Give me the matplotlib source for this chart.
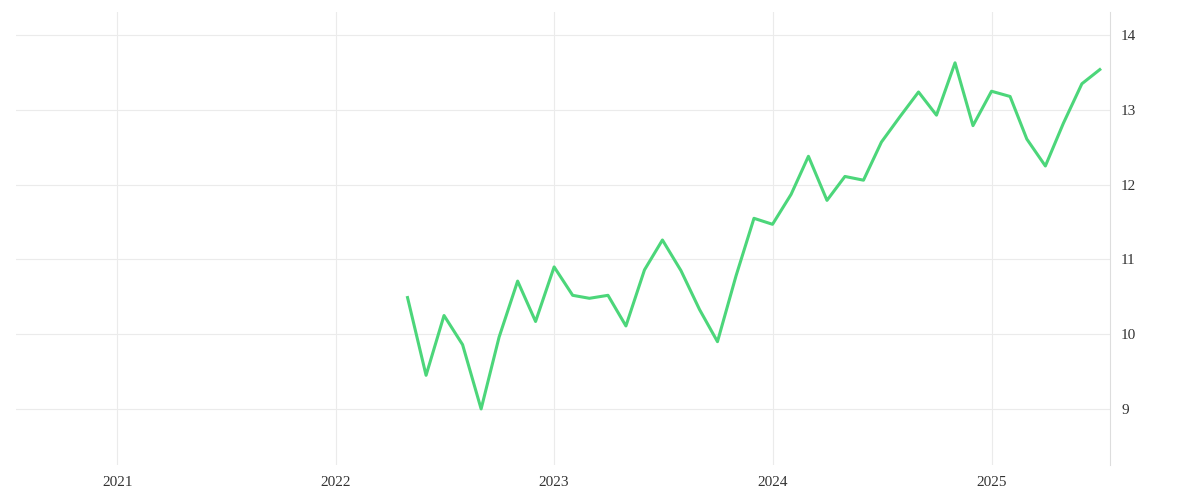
import numpy as np
import matplotlib
matplotlib.use("Agg")
import matplotlib.pyplot as plt
import matplotlib.dates as mdates

months = np.arange(np.datetime64("2022-05"), np.datetime64("2025-08"), dtype="datetime64[M]")
values = [10.49, 9.45, 10.25, 9.86, 9.0, 9.96, 10.71, 10.17,
          10.90, 10.52, 10.48, 10.52, 10.11, 10.86, 11.26, 10.85, 10.33, 9.90, 10.78, 11.55,
          11.47, 11.87, 12.38, 11.79, 12.11, 12.06, 12.57, 12.91, 13.24, 12.93, 13.63, 12.79,
          13.25, 13.18, 12.61, 12.25, 12.82, 13.35, 13.54]
dates = months.astype("datetime64[D]")

plt.rcParams['font.family'] = ['Liberation Serif', 'DejaVu Serif']
fig = plt.figure(figsize=(12, 5), dpi=100)
ax = fig.add_axes([0.013, 0.07, 0.912, 0.906])
ax.plot(dates, values, color="#4cd67a", linewidth=2.2)

ax.set_xlim(np.datetime64("2020-07-15"), np.datetime64("2025-07-18"))
ax.set_ylim(8.25, 14.31)
ax.yaxis.tick_right()
ax.set_yticks([9, 10, 11, 12, 13, 14])
ax.xaxis.set_major_locator(mdates.YearLocator())
ax.xaxis.set_major_formatter(mdates.DateFormatter("%Y"))
ax.grid(True, color="#ebebeb", linewidth=0.8)
for s in ["top", "left", "bottom"]:
    ax.spines[s].set_visible(False)
ax.spines["right"].set_color("#dddddd")
ax.tick_params(length=0, labelsize=11, colors="#333333", pad=8)
fig.savefig("out.png")
